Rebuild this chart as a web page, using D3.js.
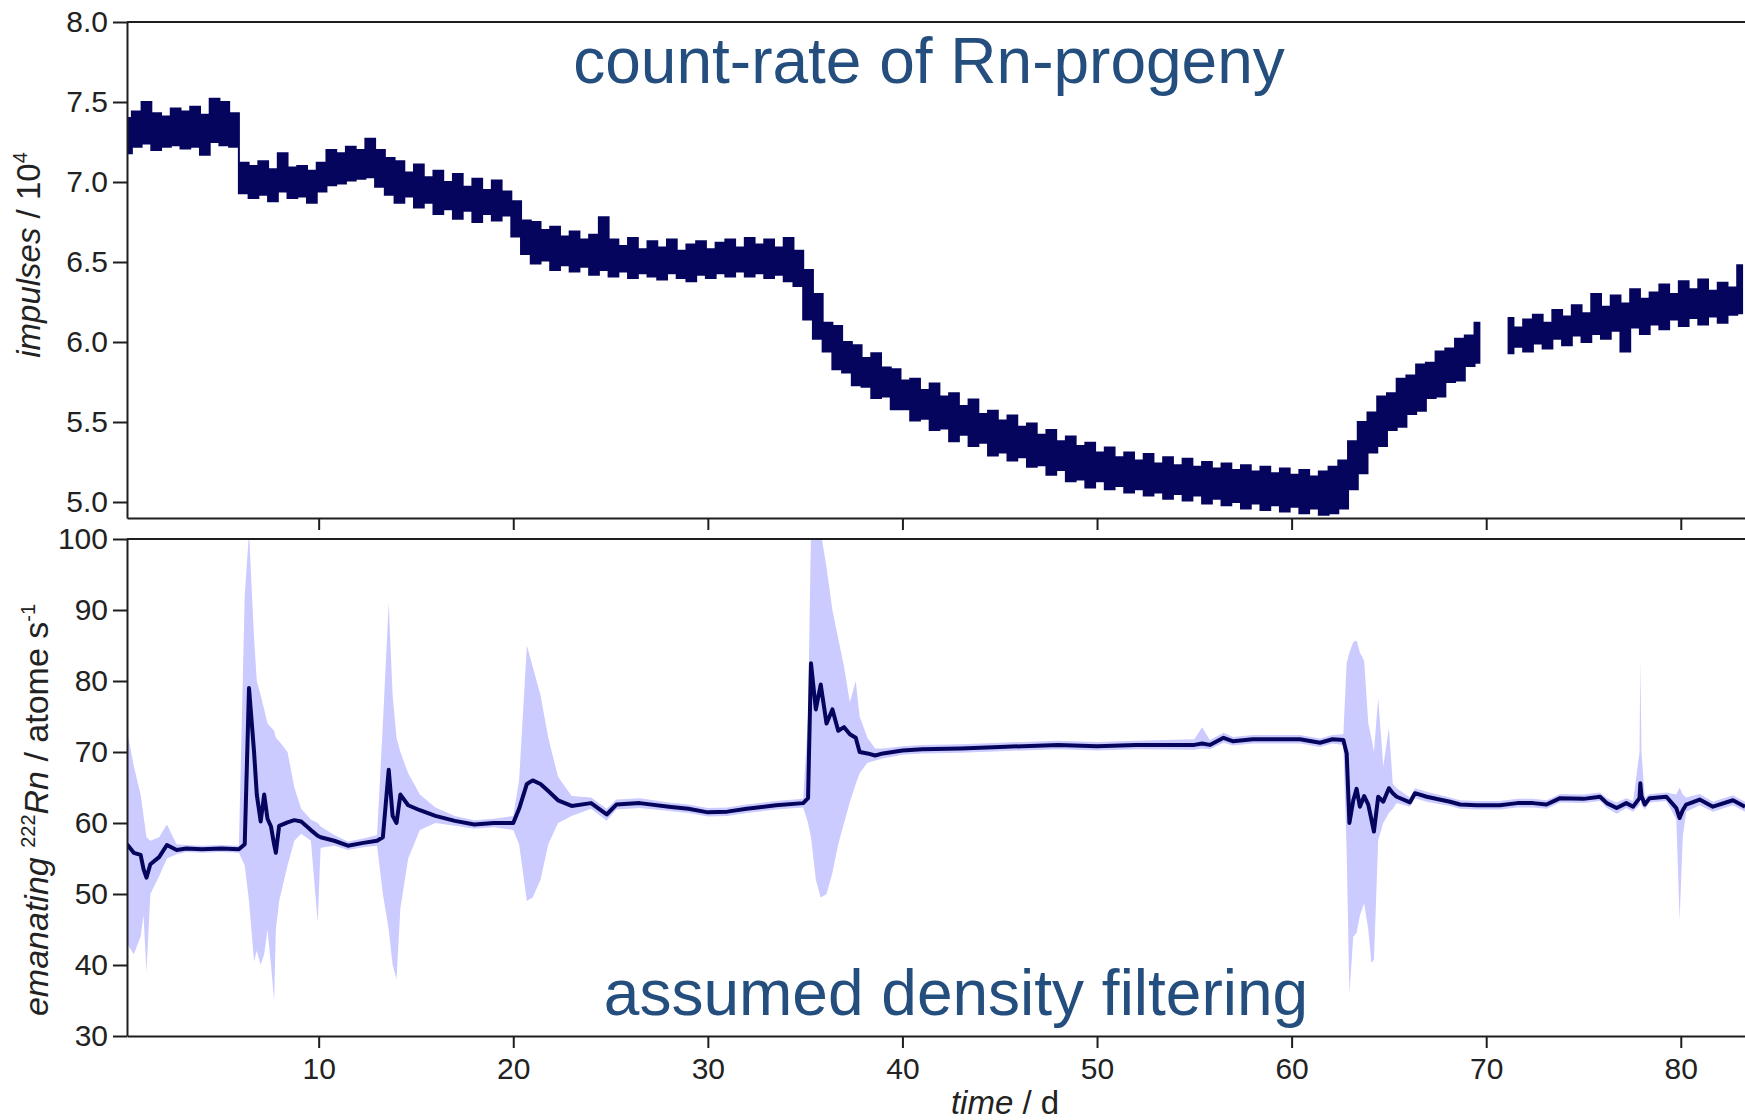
<!DOCTYPE html>
<html>
<head>
<meta charset="utf-8">
<script src="https://cdn.jsdelivr.net/npm/d3@7"></script>
<style>
  body { margin: 0; background: #fff; }
  svg { display: block; font-family: 'Liberation Sans', Arial, sans-serif; }
</style>
</head>
<body>
<div class="canvas"></div>
<script>
'use strict';

// x ticks (days)
const xTicks = [10, 20, 30, 40, 50, 60, 70, 80];
const countTicks = [5.0, 5.5, 6.0, 6.5, 7.0, 7.5, 8.0];
const rnTicks = [30, 40, 50, 60, 70, 80, 90, 100];

// count-rate of Rn-progeny (impulses / 10^4), upper and lower edge of the noisy trace,
// one reading every half day starting at 0.15 d (null = no data)
const countStart = 0.15;
const countStep = 0.5;
const countHigh = [
  7.40, 7.44, 7.50, 7.43, 7.41, 7.46, 7.44, 7.47, 7.42, 7.52, 7.50, 7.43,
  7.12, 7.10, 7.13, 7.08, 7.18, 7.09, 7.10, 7.07, 7.12,
  7.20, 7.18, 7.22, 7.20, 7.27, 7.20, 7.15,
  7.13, 7.06, 7.11, 7.03, 7.07, 7.00, 7.05, 6.97, 7.02, 6.95, 7.01, 6.94,
  6.88, 6.76, 6.75, 6.70, 6.72, 6.66, 6.69, 6.64, 6.67, 6.78,
  6.64, 6.60, 6.65, 6.58, 6.63, 6.59, 6.64, 6.57, 6.61, 6.63,
  6.58, 6.62, 6.64, 6.59, 6.65, 6.61, 6.64, 6.59, 6.65, 6.57,
  6.45, 6.30, 6.12, 6.10, 6.00, 5.98, 5.90, 5.93, 5.84, 5.83,
  5.76, 5.77, 5.70, 5.74, 5.66, 5.68, 5.60, 5.64, 5.55, 5.57,
  5.51, 5.54, 5.47, 5.49, 5.42, 5.45, 5.38, 5.41, 5.35, 5.37,
  5.31, 5.34, 5.28, 5.31, 5.26, 5.30, 5.24, 5.28, 5.23, 5.27,
  5.22, 5.25, 5.21, 5.24, 5.20, 5.23, 5.19, 5.22, 5.18, 5.21,
  5.17, 5.20, 5.16, 5.19, 5.22, 5.26, 5.38, 5.50, 5.56, 5.66,
  5.68, 5.77, 5.79, 5.86, 5.87, 5.94, 5.96, 6.02, 6.04, 6.12,
  null, null,
  6.15, 6.09, 6.14, 6.17, 6.12, 6.20, 6.16, 6.23, 6.18, 6.30,
  6.22, 6.29, 6.24, 6.33, 6.27, 6.31, 6.36, 6.30, 6.38, 6.33,
  6.39, 6.32, 6.37, 6.34, 6.48
];
const countLow = [
  7.18, 7.22, 7.24, 7.20, 7.22, 7.23, 7.21, 7.22, 7.17, 7.25, 7.23, 7.22,
  6.93, 6.90, 6.92, 6.88, 6.94, 6.90, 6.91, 6.87, 6.94,
  6.98, 6.99, 7.01, 7.02, 7.03, 6.97, 6.92,
  6.87, 6.91, 6.84, 6.87, 6.80, 6.83, 6.77, 6.82, 6.75, 6.80, 6.76, 6.79,
  6.66, 6.55, 6.49, 6.51, 6.45, 6.48, 6.44, 6.47, 6.42, 6.45,
  6.41, 6.44, 6.40, 6.43, 6.41, 6.39, 6.43, 6.40, 6.38, 6.42,
  6.40, 6.43, 6.41, 6.44, 6.41, 6.43, 6.40, 6.42, 6.38, 6.35,
  6.14, 6.02, 5.94, 5.83, 5.81, 5.73, 5.72, 5.65, 5.66, 5.58,
  5.58, 5.51, 5.52, 5.45, 5.46, 5.38, 5.42, 5.35, 5.37, 5.29,
  5.31, 5.26, 5.28, 5.22, 5.23, 5.17, 5.20, 5.13, 5.14, 5.09,
  5.13, 5.08, 5.10, 5.06, 5.08, 5.04, 5.06, 5.02, 5.05, 5.01,
  5.04, 4.99, 5.02, 4.98, 5.00, 4.96, 4.99, 4.95, 4.98, 4.94,
  4.97, 4.93, 4.96, 4.92, 4.93, 4.96, 5.08, 5.18, 5.31, 5.35,
  5.45, 5.47, 5.55, 5.57, 5.65, 5.66, 5.75, 5.76, 5.85, 5.87,
  null, null,
  5.93, 5.97, 5.94, 5.99, 5.96, 6.02, 5.98, 6.04, 6.00, 6.05,
  6.02, 6.07, 5.94, 6.09, 6.05, 6.11, 6.08, 6.14, 6.10, 6.15,
  6.11, 6.16, 6.12, 6.17, 6.18
];

// assumed density filtering: emanating 222Rn (atome/s), mean and band
const rnTime = [
  0.15, 0.5, 0.85, 1.0, 1.15, 1.35, 1.8, 2.2, 2.7, 3.2, 4.0, 5.0, 5.9,
  6.2, 6.42, 6.68, 6.82, 7.02, 7.2, 7.37, 7.55, 7.71, 7.8, 7.97, 8.4, 8.75,
  9.1, 9.6, 9.95, 10.1, 10.8, 11.5, 12.3, 13.0, 13.3, 13.6, 13.8, 14.0, 14.2,
  14.6, 15.2, 16.0, 17.0, 18.0, 19.0, 20.0, 20.3, 20.7, 21.0, 21.4, 21.8,
  22.3, 23.0, 24.0, 24.8, 25.3, 26.5, 28.0, 29.0, 30.0, 31.0, 32.0, 33.5,
  34.9, 35.15, 35.3, 35.55, 35.8, 36.1, 36.4, 36.7, 37.0, 37.3, 37.6, 37.8,
  38.2, 38.6, 39.0, 40.0, 41.0, 43.0, 45.0, 48.0, 50.0, 52.0, 55.0, 55.4,
  55.8, 56.5, 57.0, 58.0, 60.43, 61.46, 62.1, 62.66, 62.83, 62.97, 63.17,
  63.34, 63.51, 63.73, 63.94, 64.1, 64.23, 64.45, 64.71, 65.0, 65.2, 65.4,
  66.08, 66.34, 66.94, 68.14, 68.66, 69.5, 70.7, 71.6, 72.4, 73.1, 73.8,
  75.0, 75.85, 76.2, 76.7, 77.2, 77.55, 77.88, 77.92, 77.98, 78.15, 78.4,
  79.26, 79.77, 79.94, 80.1, 80.28, 80.97, 81.65, 82.68, 83.3
];
const rnMean = [
  57.0, 55.8, 55.5, 53.5, 52.3, 54.2, 55.2, 56.9, 56.2, 56.4, 56.3, 56.4, 56.3,
  57.0, 79.0, 70.0, 64.0, 60.2, 64.0, 60.6, 59.5, 57.0, 55.8, 59.6, 60.1, 60.4,
  60.2, 59.0, 58.2, 58.0, 57.5, 56.8, 57.2, 57.5, 58.0, 67.5, 61.0, 60.0, 64.0,
  62.5, 61.8, 61.0, 60.3, 59.8, 60.0, 60.0, 62.0, 65.5, 66.0, 65.5, 64.5,
  63.2, 62.4, 62.8, 61.2, 62.6, 62.8, 62.3, 62.0, 61.5, 61.6, 62.0, 62.5,
  62.8, 63.5, 82.5, 76.0, 79.5, 74.0, 76.0, 73.0, 73.5, 72.5, 72.0, 70.0,
  69.8, 69.5, 69.8, 70.2, 70.4, 70.5, 70.7, 71.0, 70.8, 71.0, 71.0, 71.2,
  71.0, 72.0, 71.5, 71.8, 71.8, 71.3, 71.8, 71.7, 69.8, 60.0, 63.2,
  64.8, 62.3, 63.8, 62.6, 60.5, 58.8, 63.7, 63.0, 64.9, 64.2, 63.7,
  62.9, 64.2, 63.7, 63.0, 62.6, 62.5, 62.5, 62.8, 62.8, 62.6, 63.5,
  63.4, 63.7, 62.8, 62.1, 62.8, 62.3, 63.5, 65.6, 63.8, 62.6, 63.5,
  63.7, 62.1, 60.7, 61.8, 62.6, 63.3, 62.3, 63.2, 62.3
];
const rnLow = [
  43.0, 41.5, 44.0, 47.0, 39.0, 50.0, 52.5, 55.0, 55.6, 55.9, 55.8, 55.9, 55.8,
  54.0, 49.0, 40.5, 42.0, 40.0, 41.5, 45.0, 40.0, 35.0, 45.0, 49.0, 54.0, 57.5,
  58.5, 57.5, 46.0, 56.5, 56.8, 56.2, 56.6, 56.8, 50.0, 45.0, 40.0, 38.0, 48.0,
  55.0, 59.0, 60.0, 59.6, 59.2, 59.4, 59.0, 57.0, 49.0, 49.5, 52.0, 57.0,
  60.0, 61.0, 62.0, 60.3, 61.9, 62.1, 61.7, 61.4, 60.9, 61.0, 61.4, 61.9,
  62.2, 60.0, 58.0, 52.0, 49.5, 50.0, 53.0, 57.0, 60.0, 63.0, 65.5, 67.0,
  68.5, 68.8, 69.1, 69.6, 69.8, 69.9, 70.1, 70.4, 70.2, 70.4, 70.3, 70.5,
  70.4, 71.3, 70.9, 71.2, 71.2, 70.7, 71.2, 71.0, 55.8, 36.0, 44.0,
  44.5, 47.0, 48.7, 45.0, 40.3, 40.7, 57.6, 60.0, 61.4, 62.0, 62.8,
  62.3, 63.5, 63.0, 62.4, 62.0, 61.9, 61.9, 62.2, 62.2, 62.0, 62.9,
  62.8, 63.1, 62.1, 61.3, 62.1, 61.6, 62.5, 63.5, 62.5, 61.9, 62.9,
  63.1, 60.5, 46.3, 58.0, 61.6, 62.5, 61.6, 62.5, 61.6
];
const rnHigh = [
  73.0, 68.0, 64.0, 61.0, 58.0, 57.5, 58.0, 59.8, 57.0, 56.9, 56.8, 56.9, 56.8,
  92.0, 101, 86.0, 80.0, 78.0, 76.0, 74.0, 73.5, 73.0, 72.0, 71.5, 70.0, 65.0,
  62.0, 60.5, 60.0, 59.5, 58.3, 57.4, 57.8, 58.3, 74.0, 91.0, 78.0, 72.0, 70.0,
  67.0, 64.0, 62.2, 61.0, 60.4, 60.6, 61.0, 66.0, 85.0, 82.0, 78.0, 72.0,
  66.5, 63.8, 63.6, 62.0, 63.3, 63.5, 62.9, 62.6, 62.1, 62.2, 62.6, 63.1,
  63.4, 75.0, 101, 101, 101, 96.0, 90.0, 86.0, 82.0, 77.0, 80.0, 75.0,
  72.0, 70.5, 70.5, 70.8, 71.0, 71.1, 71.3, 71.6, 71.4, 71.6, 71.8, 73.5,
  71.7, 72.7, 72.1, 72.4, 72.4, 71.9, 72.4, 72.5, 82.5, 84.0, 85.5,
  85.7, 84.0, 82.8, 74.0, 72.0, 70.0, 77.6, 68.0, 73.4, 65.5, 64.9,
  63.6, 64.9, 64.4, 63.6, 63.2, 63.1, 63.1, 63.4, 63.4, 63.2, 64.1,
  64.0, 64.3, 63.5, 62.9, 63.5, 63.1, 70.0, 83.0, 70.0, 63.6, 64.1,
  64.3, 64.0, 65.0, 64.0, 63.6, 64.1, 63.0, 63.9, 63.0
];

const countData = countHigh.map((hi, i) => ({
  t: countStart + i * countStep,
  hi: hi,
  lo: countLow[i]
}));
const rnData = rnTime.map((t, i) => ({
  t: t,
  mean: rnMean[i],
  lo: rnLow[i],
  hi: rnHigh[i]
}));

const width = 1745;
const height = 1120;
const plotLeft = 127;

const svg = d3
  .select('.canvas')
  .append('svg')
  .attr('width', width)
  .attr('height', height);

const x = d3.scaleLinear().domain([0.15, 83.3]).range([plotLeft, width]);
const yCount = d3.scaleLinear().domain([4.9, 8.0]).range([518, 22]);
const yRn = d3.scaleLinear().domain([30, 100]).range([1036, 539]);

const navy = '#05055e';
const band = '#cbcbff';
const textBlue = '#234e7e';
const ink = '#1e1e1e';

// clip regions
const defs = svg.append('defs');
defs
  .append('clipPath')
  .attr('id', 'clip-top')
  .append('rect')
  .attr('x', plotLeft)
  .attr('y', yCount.range()[1])
  .attr('width', width - plotLeft)
  .attr('height', yCount.range()[0] - yCount.range()[1]);
defs
  .append('clipPath')
  .attr('id', 'clip-bottom')
  .append('rect')
  .attr('x', plotLeft)
  .attr('y', yRn.range()[1])
  .attr('width', width - plotLeft)
  .attr('height', yRn.range()[0] - yRn.range()[1]);

// top panel: noisy count-rate trace
const countArea = d3
  .area()
  .defined(d => d.hi != null)
  .x(d => x(d.t))
  .y0(d => yCount(d.lo))
  .y1(d => yCount(d.hi))
  .curve(d3.curveStep);

svg
  .append('path')
  .datum(countData)
  .attr('clip-path', 'url(#clip-top)')
  .attr('d', countArea)
  .attr('fill', navy)
  .attr('stroke', navy)
  .attr('stroke-width', 2)
  .attr('stroke-linejoin', 'miter');

// bottom panel: band + mean
const rnBand = d3
  .area()
  .x(d => x(d.t))
  .y0(d => yRn(d.lo))
  .y1(d => yRn(d.hi));

const rnLine = d3
  .line()
  .x(d => x(d.t))
  .y(d => yRn(d.mean));

const bottom = svg.append('g').attr('clip-path', 'url(#clip-bottom)');

bottom
  .append('path')
  .datum(rnData)
  .attr('d', rnBand)
  .attr('fill', band);

bottom
  .append('path')
  .datum(rnData)
  .attr('d', rnLine)
  .attr('fill', 'none')
  .attr('stroke', navy)
  .attr('stroke-width', 4)
  .attr('stroke-linejoin', 'round');

// axes
const styleAxis = g => {
  g.attr('font-family', null).attr('font-size', null);
  g.selectAll('path, line').attr('stroke', ink).attr('stroke-width', 2);
  g.selectAll('text')
    .attr('fill', '#222')
    .style('font-size', '30px')
    .style('font-family', "'Liberation Sans', Arial, sans-serif");
};

svg
  .append('g')
  .attr('transform', `translate(0,${yCount.range()[0]})`)
  .call(d3.axisBottom(x).tickValues(xTicks).tickSize(12).tickSizeOuter(0).tickFormat(''))
  .call(styleAxis);

svg
  .append('g')
  .attr('transform', `translate(0,${yRn.range()[0]})`)
  .call(d3.axisBottom(x).tickValues(xTicks).tickSize(12).tickSizeOuter(0).tickPadding(10))
  .call(styleAxis);

svg
  .append('g')
  .attr('transform', `translate(${plotLeft},0)`)
  .call(
    d3
      .axisLeft(yCount)
      .tickValues(countTicks)
      .tickSize(14)
      .tickSizeOuter(0)
      .tickPadding(5)
      .tickFormat(d3.format('.1f'))
  )
  .call(styleAxis);

svg
  .append('g')
  .attr('transform', `translate(${plotLeft},0)`)
  .call(d3.axisLeft(yRn).tickValues(rnTicks).tickSize(14).tickSizeOuter(0).tickPadding(5))
  .call(styleAxis);

// top frame lines of both panels
[yCount.range()[1], yRn.range()[1]].forEach(yy => {
  svg
    .append('line')
    .attr('x1', plotLeft)
    .attr('x2', width)
    .attr('y1', yy)
    .attr('y2', yy)
    .attr('stroke', ink)
    .attr('stroke-width', 2);
});

// axis titles
const topTitle = svg
  .append('text')
  .attr('transform', 'translate(40,255) rotate(-90)')
  .attr('text-anchor', 'middle')
  .attr('fill', '#222')
  .style('font-size', '33px');
topTitle.append('tspan').style('font-style', 'italic').text('impulses');
topTitle.append('tspan').text(' / 10');
topTitle.append('tspan').attr('dy', -13).style('font-size', '20px').text('4');

const bottomTitle = svg
  .append('text')
  .attr('transform', 'translate(48,810) rotate(-90)')
  .attr('text-anchor', 'middle')
  .attr('fill', '#222')
  .style('font-size', '34px');
bottomTitle.append('tspan').style('font-style', 'italic').text('emanating ');
bottomTitle.append('tspan').attr('dy', -13).style('font-size', '20px').text('222');
bottomTitle.append('tspan').attr('dy', 13).style('font-style', 'italic').text('Rn');
bottomTitle.append('tspan').text(' / atome s');
bottomTitle.append('tspan').attr('dy', -13).style('font-size', '20px').text('-1');

const xTitle = svg
  .append('text')
  .attr('x', 1005)
  .attr('y', 1114)
  .attr('text-anchor', 'middle')
  .attr('fill', '#222')
  .style('font-size', '33px');
xTitle.append('tspan').style('font-style', 'italic').text('time');
xTitle.append('tspan').text(' / d');

// panel annotations
svg
  .append('text')
  .attr('x', 929)
  .attr('y', 83)
  .attr('text-anchor', 'middle')
  .attr('fill', textBlue)
  .style('font-size', '64px')
  .text('count-rate of Rn-progeny');

svg
  .append('text')
  .attr('x', 956)
  .attr('y', 1015)
  .attr('text-anchor', 'middle')
  .attr('fill', textBlue)
  .style('font-size', '64px')
  .text('assumed density filtering');
</script>
</body>
</html>
